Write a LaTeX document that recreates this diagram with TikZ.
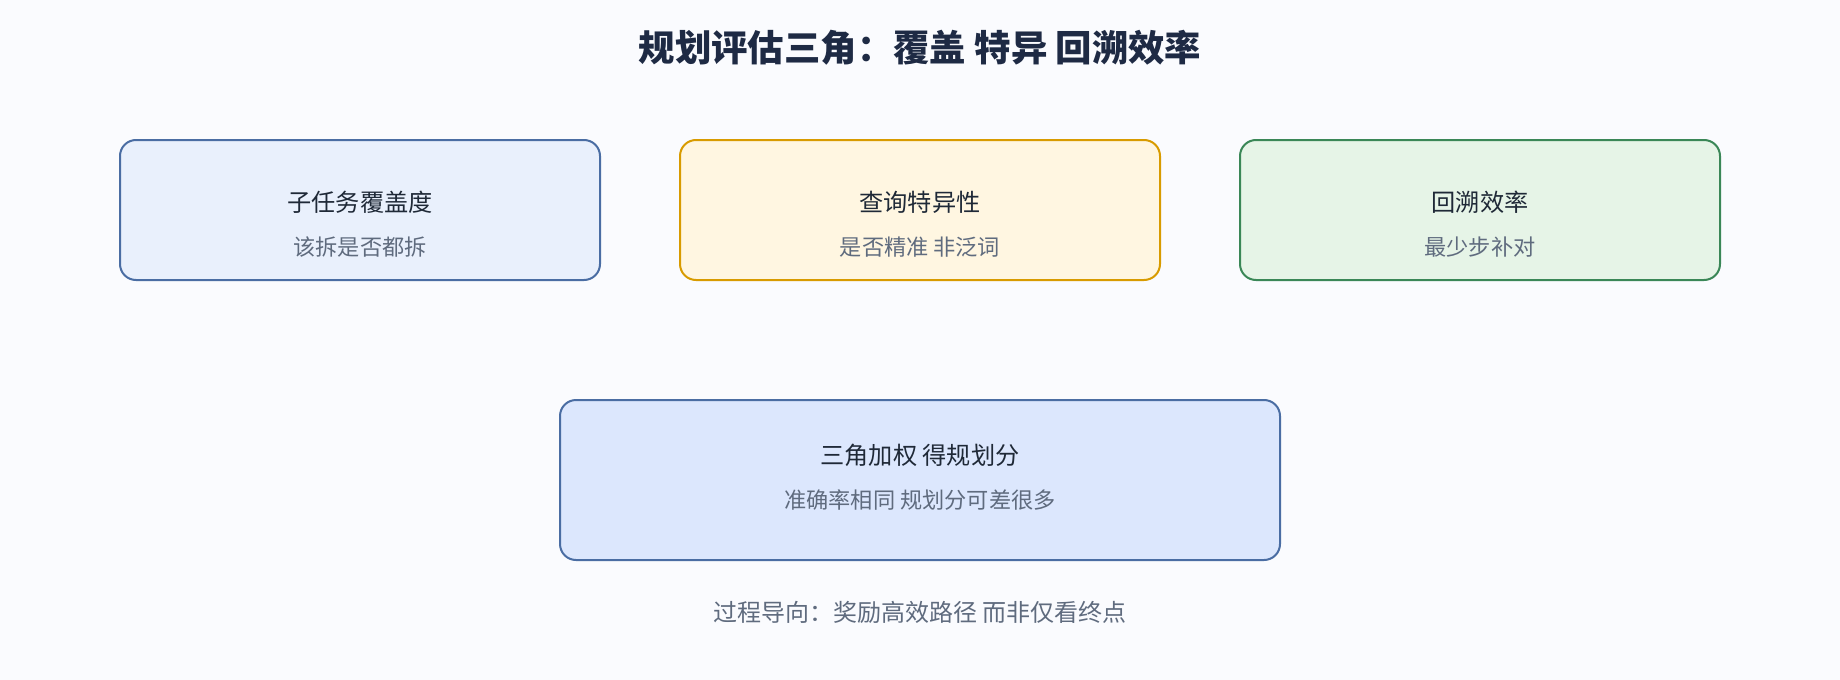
\documentclass[tikz,border=0pt]{standalone}
\usepackage{fontspec}
\setmainfont{Noto Sans CJK SC}
\newfontfamily\cjk{Noto Sans CJK SC}
\definecolor{bgc}{HTML}{FAFBFE}
\definecolor{titlec}{HTML}{1E2A44}
\definecolor{mainc}{HTML}{1F2937}
\definecolor{subc}{HTML}{5F6B7E}
\definecolor{bluefill}{HTML}{E9F0FC}
\definecolor{blueline}{HTML}{4A6DA3}
\definecolor{orfill}{HTML}{FFF6E1}
\definecolor{orline}{HTML}{D89B00}
\definecolor{grfill}{HTML}{E6F4E7}
\definecolor{grline}{HTML}{3A8757}
\definecolor{sumfill}{HTML}{DCE7FD}
\tikzset{
  card/.style={draw, line width=2pt, rounded corners=16pt, minimum width=480pt, minimum height=140pt, inner sep=0pt},
  headtxt/.style={font=\cjk\fontsize{24.2}{29}\selectfont, text=mainc, inner sep=0pt, anchor=center},
  subtxt/.style={font=\cjk\fontsize{22.2}{27}\selectfont, text=subc, inner sep=0pt, anchor=center},
}
\begin{document}
\begin{tikzpicture}[x=1pt,y=-1pt]
\fill[bgc] (0,0) rectangle (1840,680);
\useasboundingbox (0,0) rectangle (1840,680);
\node[font=\cjk\bfseries\fontsize{36.4}{44}\selectfont, text=titlec, inner sep=0pt] (title) at (920,48) {规划评估三角：覆盖 特异 回溯效率};
\node[card, fill=bluefill, draw=blueline] (cov) at (360,210) {};
\node[card, fill=orfill, draw=orline] (spec) at (920,210) {};
\node[card, fill=grfill, draw=grline] (back) at (1480,210) {};
\node[headtxt] (covh) at (360,202) {子任务覆盖度};
\node[subtxt] (covs) at (360,247) {该拆是否都拆};
\node[headtxt] (spech) at (920,202) {查询特异性};
\node[subtxt] (specs) at (920,247) {是否精准 非泛词};
\node[headtxt] (backh) at (1480,202) {回溯效率};
\node[subtxt] (backs) at (1480,247) {最少步补对};
\node[card, fill=sumfill, draw=blueline, minimum width=720pt, minimum height=160pt] (sum) at (920,480) {};
\node[headtxt] (sumh) at (920,455) {三角加权 得规划分};
\node[subtxt] (sums) at (920,500) {准确率相同 规划分可差很多};
\node[subtxt, font=\cjk\fontsize{24}{29}\selectfont] (foot) at (920,612) {过程导向：奖励高效路径 而非仅看终点};
\end{tikzpicture}
\end{document}
